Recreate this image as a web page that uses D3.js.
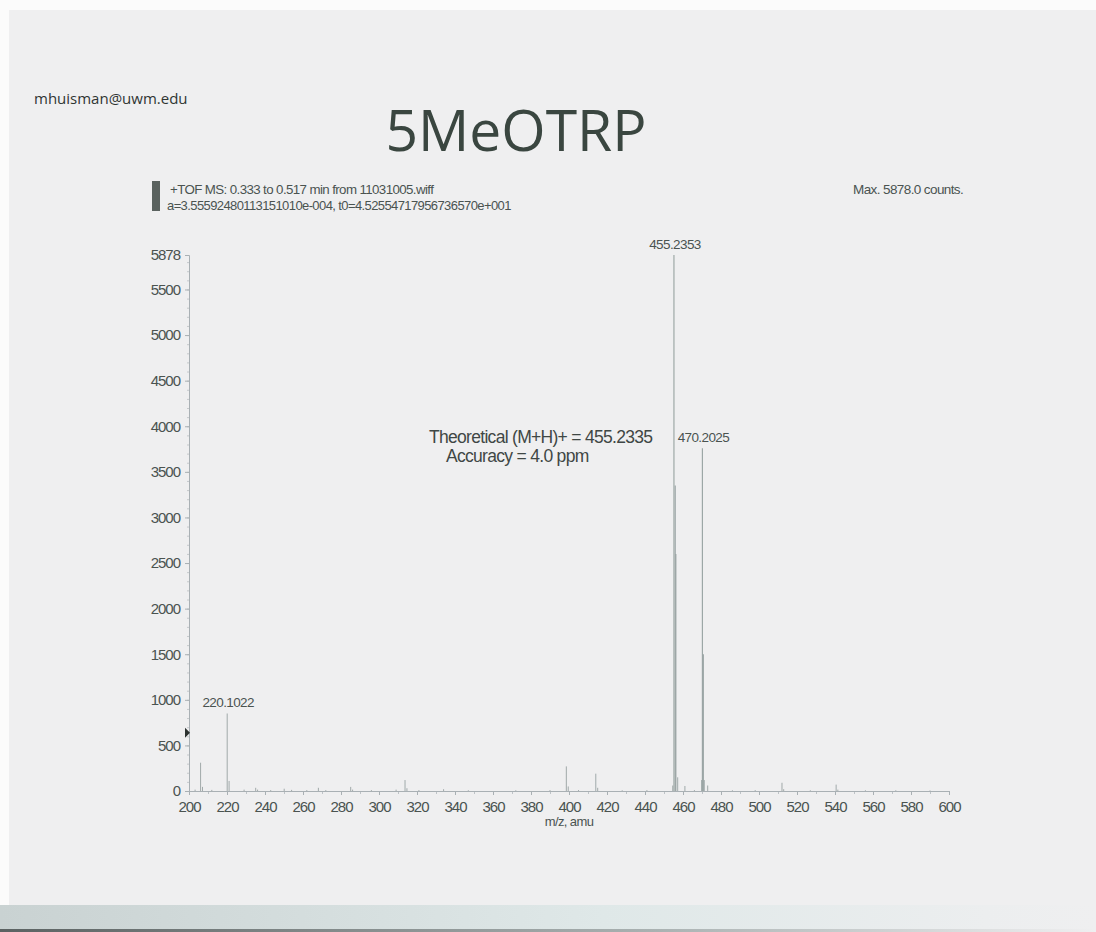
<!DOCTYPE html>
<html>
<head>
<meta charset="utf-8">
<script src="https://cdn.jsdelivr.net/npm/d3@7"></script>
<style>
  html, body { margin: 0; padding: 0; background: #efeff0; }
  svg { display: block; }
</style>
</head>
<body>
<svg id="chart" width="1096" height="932"></svg>
<script>
// Spectrum peaks: m/z and intensity (counts)
const peakMz = [
  203.2, 206.1, 207.1, 212.0, 220.1022, 221.1, 229.0, 235.1, 236.1, 243.0,
  250.1, 254.0, 262.0, 268.1, 272.0, 285.1, 286.1, 296.0, 309.0, 313.7,
  314.7, 321.0, 334.0, 347.0, 372.0, 390.0, 398.6, 399.6, 405.0, 414.1,
  415.1, 428.0, 441.0, 454.6, 455.2353, 455.9, 456.24, 457.2, 461.0, 466.0,
  469.8, 470.2025, 470.7, 471.2, 473.0, 486.0, 498.0, 512.1, 513.0, 527.0,
  540.6, 541.5, 556.0, 572.0, 590.0
];
const peakCounts = [
  15, 310, 45, 12, 850, 110, 15, 35, 15, 10,
  25, 12, 10, 35, 10, 45, 15, 10, 15, 120,
  30, 10, 20, 8, 8, 10, 270, 50, 10, 190,
  35, 8, 10, 60, 5878, 3350, 2600, 150, 55, 10,
  120, 3760, 1500, 120, 60, 8, 10, 90, 20, 8,
  70, 15, 8, 8, 6
];

// Tick labels
const yTickValues = [0, 500, 1000, 1500, 2000, 2500, 3000, 3500, 4000, 4500, 5000, 5500, 5878];
const xTickValues = [200, 220, 240, 260, 280, 300, 320, 340, 360, 380, 400, 420, 440, 460, 480, 500, 520, 540, 560, 580, 600];

// Labelled peaks
const labelMz = [455.2353, 470.2025, 220.1022];
const labelText = ["455.2353", "470.2025", "220.1022"];

const svg = d3.select("#chart");
const font = "'Liberation Sans', Arial, sans-serif";
const ink = "#4a5350";

// Scanned page: white border at top and left, shadow at bottom
svg.append("rect").attr("x", 0).attr("y", 0).attr("width", 9).attr("height", 932).attr("fill", "#fbfbfb");
svg.append("rect").attr("x", 0).attr("y", 0).attr("width", 1096).attr("height", 10).attr("fill", "#fbfbfb");
const defs = svg.append("defs");
const grad = defs.append("linearGradient").attr("id", "shade").attr("x1", 0).attr("x2", 1).attr("y1", 0).attr("y2", 0);
grad.append("stop").attr("offset", "0%").attr("stop-color", "#c9d2d2");
grad.append("stop").attr("offset", "55%").attr("stop-color", "#dfe8e8");
grad.append("stop").attr("offset", "90%").attr("stop-color", "#eceeef");
grad.append("stop").attr("offset", "100%").attr("stop-color", "#efeff0");
svg.append("rect").attr("x", 0).attr("y", 905).attr("width", 1096).attr("height", 27).attr("fill", "url(#shade)");
const grad2 = defs.append("linearGradient").attr("id", "edge").attr("x1", 0).attr("x2", 1).attr("y1", 0).attr("y2", 0);
grad2.append("stop").attr("offset", "0%").attr("stop-color", "#5b6262");
grad2.append("stop").attr("offset", "60%").attr("stop-color", "#aab2b2");
grad2.append("stop").attr("offset", "100%").attr("stop-color", "#efeff0");
svg.append("rect").attr("x", 0).attr("y", 929).attr("width", 1096).attr("height", 3).attr("fill", "url(#edge)");

// Header texts
svg.append("text").attr("x", 34).attr("y", 104)
  .attr("font-family", "'Open Sans', 'Noto Sans', sans-serif").attr("font-size", 15)
  .attr("fill", "#2f3533").text("mhuisman@uwm.edu");

svg.append("text").attr("x", 516).attr("y", 151).attr("text-anchor", "middle")
  .attr("font-family", "'Open Sans', 'Noto Sans', sans-serif").attr("font-size", 57)
  .attr("fill", "#3a4640").text("5MeOTRP");

svg.append("rect").attr("x", 152).attr("y", 181).attr("width", 8).attr("height", 30).attr("fill", "#5a625f");

svg.append("text").attr("x", 170).attr("y", 194)
  .attr("font-family", font).attr("font-size", 13.3).attr("letter-spacing", -0.6)
  .attr("fill", ink).text("+TOF MS: 0.333 to 0.517 min from 11031005.wiff");
svg.append("text").attr("x", 167).attr("y", 210)
  .attr("font-family", font).attr("font-size", 13).attr("letter-spacing", -0.6)
  .attr("fill", ink).text("a=3.55592480113151010e-004, t0=4.52554717956736570e+001");
svg.append("text").attr("x", 853).attr("y", 194)
  .attr("font-family", font).attr("font-size", 13.5).attr("letter-spacing", -0.6)
  .attr("fill", ink).text("Max. 5878.0 counts.");

// Scales
const x = d3.scaleLinear().domain([200, 600]).range([189, 949]);
const y = d3.scaleLinear().domain([0, 5878]).range([791, 255]);
const axisColor = "#a9b0b4";

// Y axis
const yAxis = svg.append("g").attr("transform", `translate(${x(200)},0)`)
  .call(d3.axisLeft(y).tickValues(yTickValues).tickSize(4).tickPadding(5).tickFormat(d3.format("d")));
yAxis.select(".domain").attr("stroke", axisColor);
yAxis.selectAll(".tick line").attr("stroke", axisColor);
yAxis.selectAll("text").attr("font-family", font).attr("font-size", 15).attr("letter-spacing", -1).attr("fill", ink);
svg.append("g").attr("transform", `translate(${x(200)},0)`)
  .call(d3.axisLeft(y).tickValues(d3.range(100, 5878, 100)).tickSize(2).tickFormat(""))
  .call(g => g.select(".domain").remove())
  .selectAll("line").attr("stroke", axisColor).attr("stroke-width", 0.6);

// X axis
const xAxis = svg.append("g").attr("transform", `translate(0,${y(0)})`)
  .call(d3.axisBottom(x).tickValues(xTickValues).tickSize(4).tickPadding(6).tickFormat(d3.format("d")));
xAxis.select(".domain").attr("stroke", axisColor);
xAxis.selectAll(".tick line").attr("stroke", axisColor);
xAxis.selectAll("text").attr("font-family", font).attr("font-size", 15).attr("letter-spacing", -1).attr("fill", ink);
svg.append("g").attr("transform", `translate(0,${y(0)})`)
  .call(d3.axisBottom(x).tickValues(d3.range(210, 600, 20)).tickSize(3).tickFormat(""))
  .call(g => g.select(".domain").remove())
  .selectAll("line").attr("stroke", axisColor).attr("stroke-width", 0.7);

svg.append("text").attr("x", x(400)).attr("y", 826).attr("text-anchor", "middle")
  .attr("font-family", font).attr("font-size", 13).attr("letter-spacing", -0.6)
  .attr("fill", ink).text("m/z, amu");

// Threshold marker on y axis
const ym = y(640);
svg.append("path")
  .attr("d", `M${x(200) - 4},${ym - 5} L${x(200) + 1},${ym} L${x(200) - 4},${ym + 5} Z`)
  .attr("fill", "#2c3230");

// Peaks as sticks
const peaks = peakMz.map((m, i) => ({ mz: m, c: peakCounts[i] }));
svg.append("g").selectAll("line").data(peaks).join("line")
  .attr("x1", d => x(d.mz)).attr("x2", d => x(d.mz))
  .attr("y1", y(0)).attr("y2", d => y(d.c))
  .attr("stroke", "#97a2a1")
  .attr("stroke-width", d => d.c > 1000 ? 1.1 : 0.9);

// Peak labels
labelMz.forEach((m, i) => {
  const p = peaks.find(d => d.mz === m);
  svg.append("text").attr("x", x(m) + 1).attr("y", y(p.c) - 6).attr("text-anchor", "middle")
    .attr("font-family", font).attr("font-size", 13.5).attr("letter-spacing", -0.6)
    .attr("fill", ink).text(labelText[i]);
});

// Annotation
svg.append("text").attr("x", 429).attr("y", 443)
  .attr("font-family", font).attr("font-size", 17.5).attr("letter-spacing", -0.7)
  .attr("fill", "#3f4745").text("Theoretical (M+H)+ = 455.2335");
svg.append("text").attr("x", 446).attr("y", 462)
  .attr("font-family", font).attr("font-size", 17.5).attr("letter-spacing", -0.7)
  .attr("fill", "#3f4745").text("Accuracy = 4.0 ppm");
</script>
</body>
</html>
